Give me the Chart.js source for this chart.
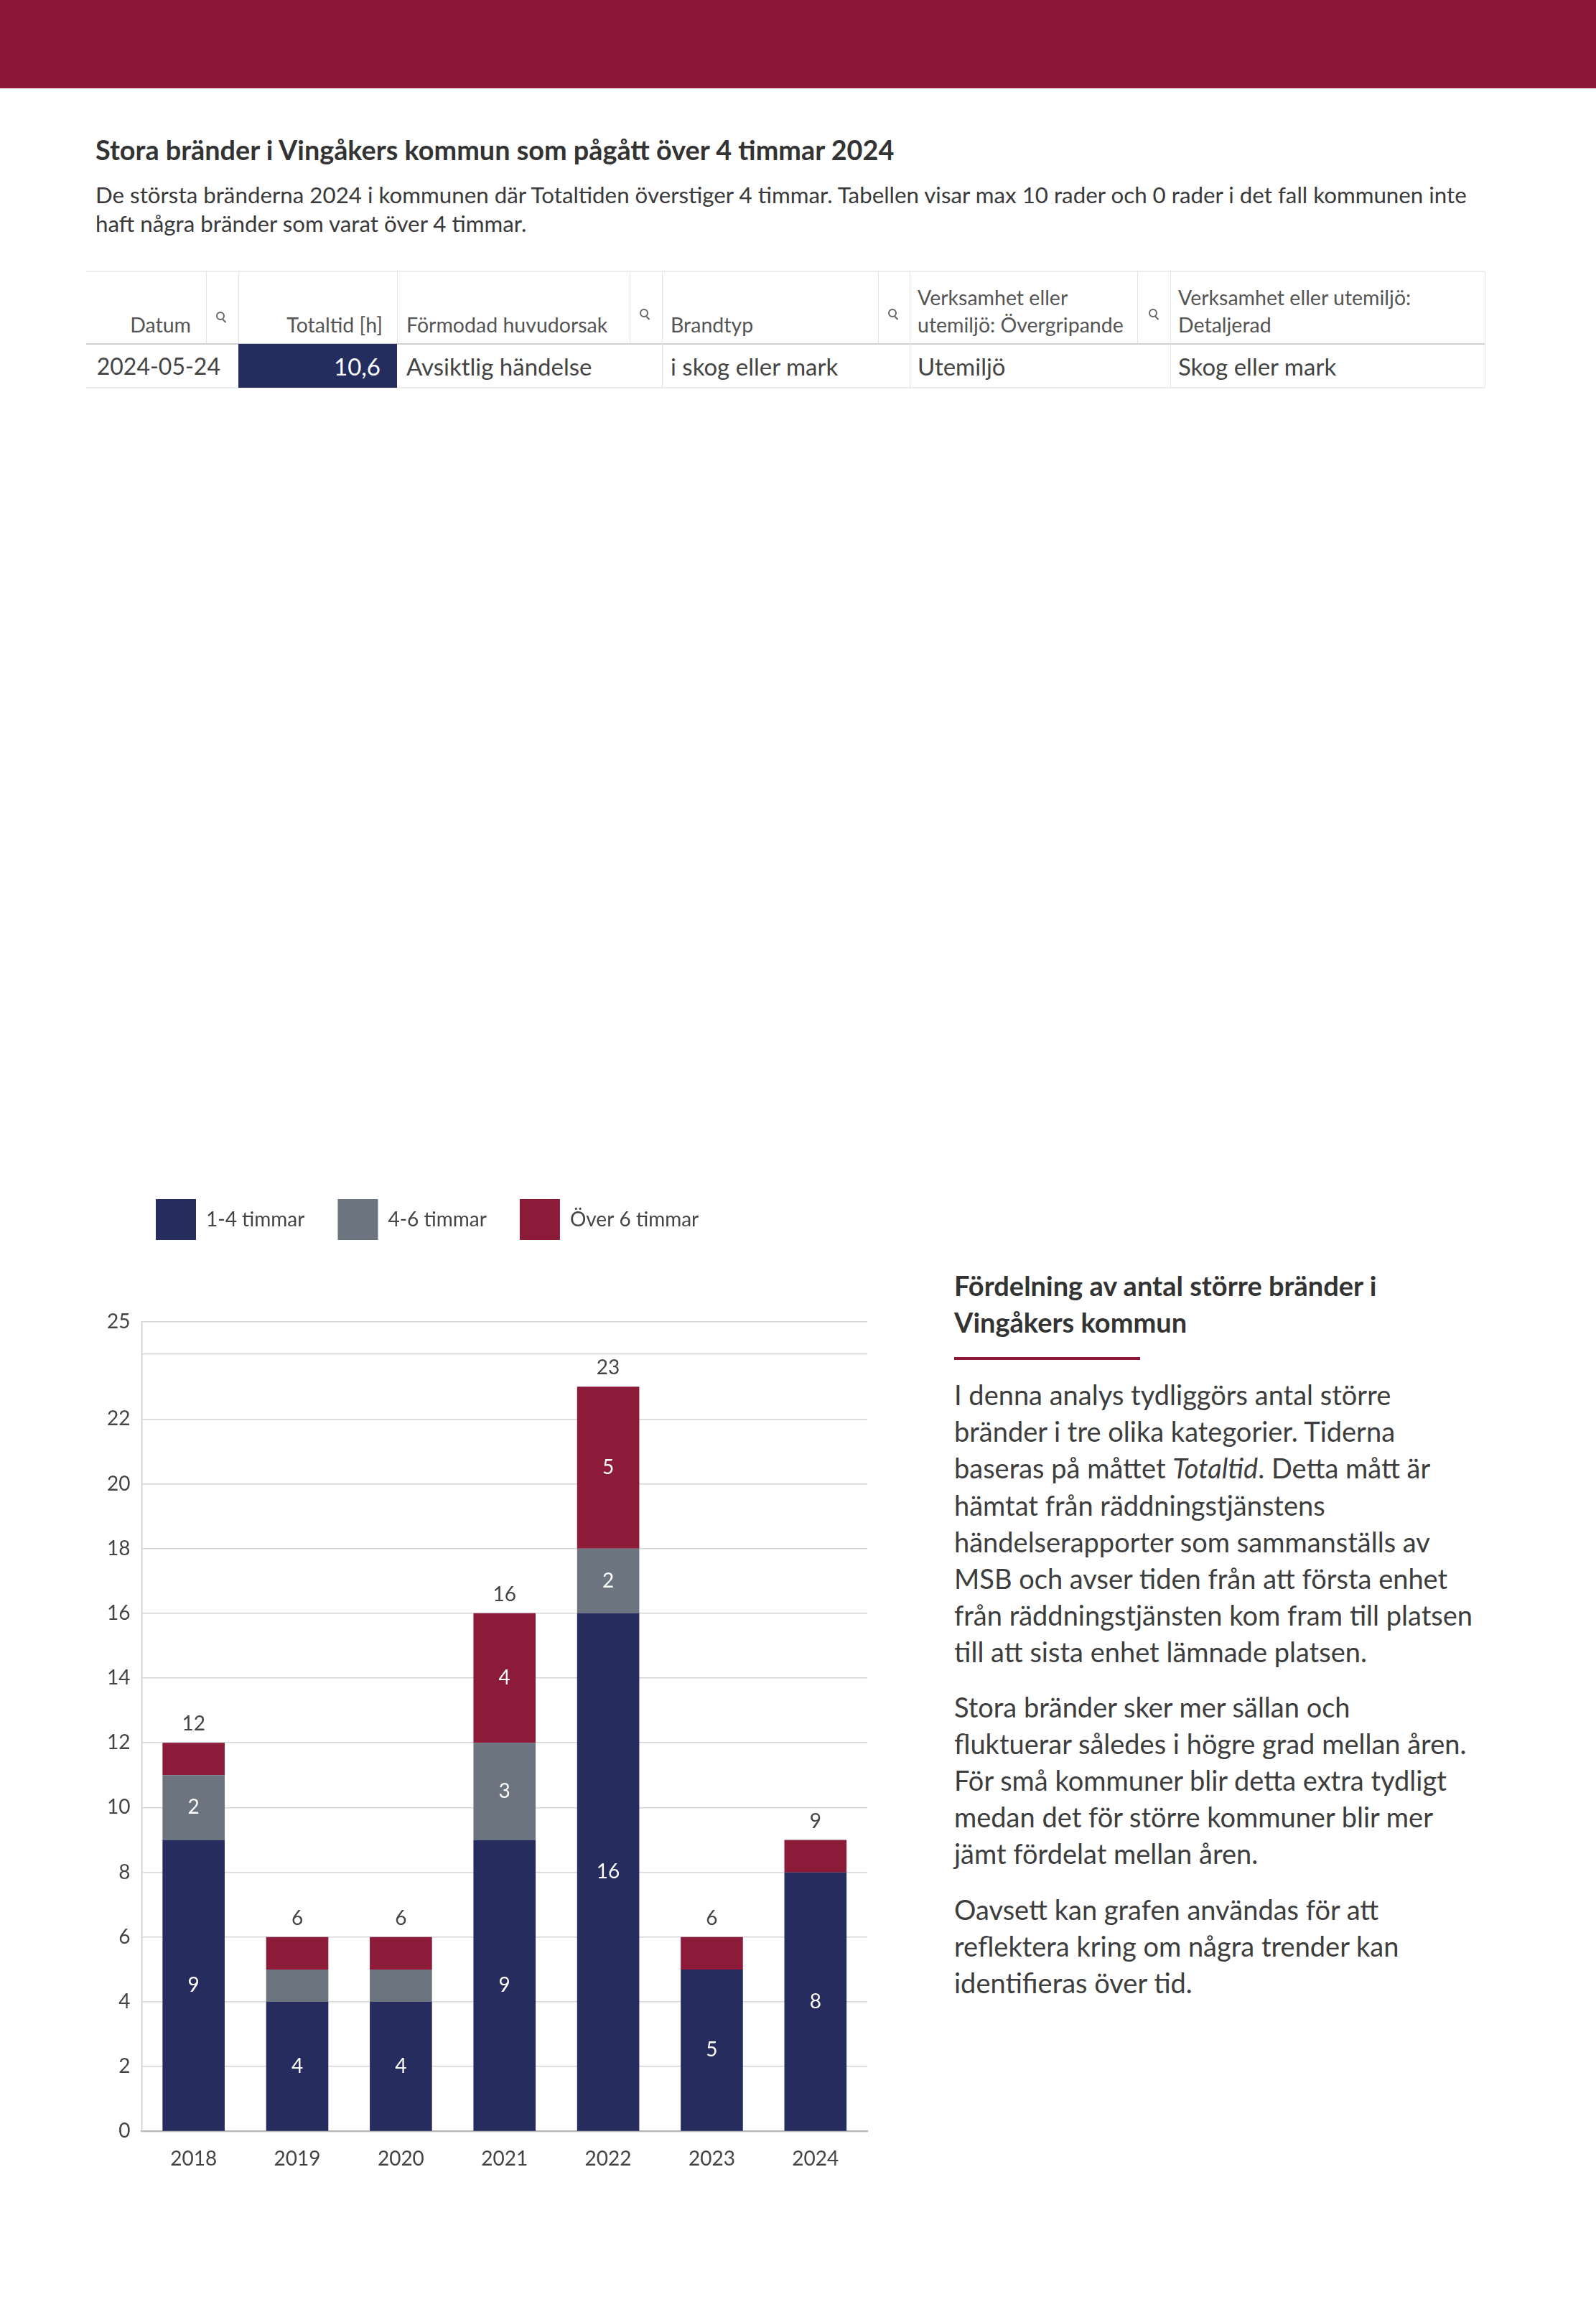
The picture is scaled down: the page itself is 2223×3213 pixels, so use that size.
<!DOCTYPE html>
<html lang="sv">
<head>
<meta charset="utf-8">
<script src="https://cdn.jsdelivr.net/npm/chart.js@4.4.1/dist/chart.umd.min.js"></script>
<style>
html,body{margin:0;padding:0;background:#fff;}
body{width:2223px;height:3213px;position:relative;font-family:Lato,"Open Sans",sans-serif;color:#3f3f3f;overflow:hidden;}
.topbar{position:absolute;left:0;top:0;width:2223px;height:123px;background:#8C1739;}
.title{position:absolute;left:133px;top:186px;font-size:37.8px;line-height:46px;font-weight:700;color:#333;white-space:nowrap;}
.sub{position:absolute;left:133px;top:251px;font-size:31.3px;line-height:40px;color:#3a3a3a;white-space:nowrap;}
.hline{position:absolute;height:0;}
.vline{position:absolute;width:0;}
.th{position:absolute;top:378px;height:93px;display:flex;flex-direction:column;justify-content:flex-end;font-size:28.5px;line-height:38px;color:#555;white-space:nowrap;box-sizing:border-box;}
.td{position:absolute;top:479px;height:61px;display:flex;align-items:center;font-size:33px;color:#444;white-space:nowrap;box-sizing:border-box;}
.r{text-align:right;align-items:flex-end;}
.search{position:absolute;width:16px;height:16px;}
.search::before{content:"";position:absolute;left:0;top:0;width:8px;height:8px;border:2px solid #666;border-radius:50%;}
.search::after{content:"";position:absolute;left:10px;top:10px;width:6px;height:2px;background:#666;transform:rotate(45deg);transform-origin:0 0;}
#chartWrap{position:absolute;left:100px;top:1620px;width:1130px;height:1440px;}
.side{position:absolute;left:1329px;white-space:nowrap;color:#3d3d3d;}
.side h2{margin:0;font-size:38px;line-height:51px;font-weight:700;color:#333;}
.side .rule{width:259px;height:4px;background:#8C1739;margin-top:23px;}
.side p{margin:0;font-size:38px;line-height:51.2px;}
</style>
</head>
<body>
<div class="topbar"></div>
<div class="title">Stora bränder i Vingåkers kommun som pågått över 4 timmar 2024</div>
<div class="sub">De största bränderna 2024 i kommunen där Totaltiden överstiger 4 timmar. Tabellen visar max 10 rader och 0 rader i det fall kommunen inte<br>haft några bränder som varat över 4 timmar.</div>

<!-- table -->
<div class="hline" style="left:120px;top:377px;width:1948px;border-top:2px solid #eeeeee;"></div>
<div class="hline" style="left:120px;top:478px;width:1948px;border-top:2px solid #d0d0d0;"></div>
<div class="hline" style="left:120px;top:539px;width:1948px;border-top:2px solid #ececec;"></div>
<div class="vline" style="left:287px;top:378px;height:100px;border-left:1px solid #e6e6e6;"></div>
<div class="vline" style="left:332px;top:378px;height:100px;border-left:1px solid #e6e6e6;"></div>
<div class="vline" style="left:553px;top:378px;height:100px;border-left:1px solid #e6e6e6;"></div>
<div class="vline" style="left:877px;top:378px;height:100px;border-left:1px solid #e6e6e6;"></div>
<div class="vline" style="left:922px;top:378px;height:162px;border-left:1px solid #e6e6e6;"></div>
<div class="vline" style="left:1223px;top:378px;height:100px;border-left:1px solid #e6e6e6;"></div>
<div class="vline" style="left:1267px;top:378px;height:162px;border-left:1px solid #e6e6e6;"></div>
<div class="vline" style="left:1584px;top:378px;height:100px;border-left:1px solid #e6e6e6;"></div>
<div class="vline" style="left:1630px;top:378px;height:162px;border-left:1px solid #e6e6e6;"></div>
<div class="vline" style="left:2068px;top:378px;height:162px;border-left:1px solid #e6e6e6;"></div>

<div class="th r" style="left:120px;width:167px;padding-right:21px;">Datum</div>
<div class="search" style="left:301px;top:434px;"></div>
<div class="th r" style="left:332px;width:221px;padding-right:20px;">Totaltid [h]</div>
<div class="th" style="left:553px;width:324px;padding-left:13px;">Förmodad huvudorsak</div>
<div class="search" style="left:891px;top:430px;"></div>
<div class="th" style="left:922px;width:301px;padding-left:12px;">Brandtyp</div>
<div class="search" style="left:1237px;top:430px;"></div>
<div class="th" style="left:1267px;width:317px;padding-left:11px;">Verksamhet eller<br>utemiljö: Övergripande</div>
<div class="search" style="left:1600px;top:430px;"></div>
<div class="th" style="left:1630px;width:438px;padding-left:11px;">Verksamhet eller utemiljö:<br>Detaljerad</div>

<div class="td" style="left:120px;width:212px;justify-content:flex-end;padding-right:25px;font-size:32px;">2024-05-24</div>
<div class="td" style="left:332px;width:221px;justify-content:flex-end;padding-right:23px;background:#252D5E;color:#fff;">10,6</div>
<div class="td" style="left:553px;width:369px;padding-left:13px;">Avsiktlig händelse</div>
<div class="td" style="left:922px;width:345px;padding-left:12px;">i skog eller mark</div>
<div class="td" style="left:1267px;width:363px;padding-left:11px;">Utemiljö</div>
<div class="td" style="left:1630px;width:438px;padding-left:11px;">Skog eller mark</div>

<div id="chartWrap"><canvas id="c"></canvas></div>

<div class="side" style="top:1765px;">
<h2>Fördelning av antal större bränder i<br>Vingåkers kommun</h2>
<div class="rule"></div>
<p style="margin-top:23px;">I denna analys tydliggörs antal större<br>bränder i tre olika kategorier. Tiderna<br>baseras på måttet <i>Totaltid</i>. Detta mått är<br>hämtat från räddningstjänstens<br>händelserapporter som sammanställs av<br>MSB och avser tiden från att första enhet<br>från räddningstjänsten kom fram till platsen<br>till att sista enhet lämnade platsen.</p>
<p style="margin-top:25px;">Stora bränder sker mer sällan och<br>fluktuerar således i högre grad mellan åren.<br>För små kommuner blir detta extra tydligt<br>medan det för större kommuner blir mer<br>jämt fördelat mellan åren.</p>
<p style="margin-top:26px;">Oavsett kan grafen användas för att<br>reflektera kring om några trender kan<br>identifieras över tid.</p>
</div>

<script>
// ---- data ----
const years = ['2018', '2019', '2020', '2021', '2022', '2023', '2024'];
const seriesNames = ['1-4 timmar', '4-6 timmar', 'Över 6 timmar'];
const h1to4 = [9, 4, 4, 9, 16, 5, 8];
const h4to6 = [2, 1, 1, 3, 2, 0, 0];
const over6 = [1, 1, 1, 4, 5, 1, 1];
const yTickValues = [0, 2, 4, 6, 8, 10, 12, 14, 16, 18, 20, 22, 24, 25];
const yTickLabels = ['0', '2', '4', '6', '8', '10', '12', '14', '16', '18', '20', '22', '', '25'];

const colors = ['#262C5D', '#6C757F', '#8C1B3A'];
const minInsideLabel = 2;

Chart.defaults.font.family = 'Lato, "Open Sans", sans-serif';
Chart.defaults.font.size = 28;
Chart.defaults.color = '#444';

const legendSpacing = {
  id: 'legendSpacing',
  beforeInit(chart) {
    const orig = chart.legend.fit;
    chart.legend.fit = function () {
      orig.bind(chart.legend)();
      this.height += 104;
    };
  },
  afterLayout(chart) {
    chart.legend.left += 38;
  }
};

const valueLabels = {
  id: 'valueLabels',
  afterDatasetsDraw(chart) {
    const ctx = chart.ctx;
    ctx.save();
    ctx.font = '28px Lato, "Open Sans", sans-serif';
    ctx.textAlign = 'center';
    ctx.textBaseline = 'middle';
    chart.data.datasets.forEach((ds, di) => {
      const meta = chart.getDatasetMeta(di);
      meta.data.forEach((el, i) => {
        const v = ds.data[i];
        if (v >= minInsideLabel) {
          ctx.fillStyle = '#ffffff';
          ctx.fillText(String(v), el.x, (el.y + el.base) / 2);
        }
      });
    });
    years.forEach((y, i) => {
      let total = 0, top = Infinity, x = 0;
      chart.data.datasets.forEach((ds, di) => {
        const el = chart.getDatasetMeta(di).data[i];
        total += ds.data[i];
        x = el.x;
        if (ds.data[i] > 0) top = Math.min(top, el.y);
      });
      ctx.fillStyle = '#444';
      ctx.fillText(String(total), x, top - 26);
    });
    ctx.restore();
  }
};

new Chart(document.getElementById('c'), {
  type: 'bar',
  data: {
    labels: years,
    datasets: [
      { label: seriesNames[0], data: h1to4, backgroundColor: colors[0] },
      { label: seriesNames[1], data: h4to6, backgroundColor: colors[1] },
      { label: seriesNames[2], data: over6, backgroundColor: colors[2] }
    ]
  },
  options: {
    responsive: true,
    maintainAspectRatio: false,
    animation: false,
    layout: { padding: { top: 4, left: 33, right: 22, bottom: 22 } },
    datasets: { bar: { barPercentage: 0.6, categoryPercentage: 1.0 } },
    plugins: {
      legend: {
        position: 'top',
        align: 'start',
        labels: { boxWidth: 56, boxHeight: 57, padding: 46, color: '#444', font: { size: 28 } }
      },
      tooltip: { enabled: false }
    },
    scales: {
      x: {
        stacked: true,
        grid: { display: false },
        border: { color: '#b4b4b4', width: 2 },
        ticks: { padding: 14, color: '#444' }
      },
      y: {
        stacked: true,
        min: 0,
        max: 25,
        afterBuildTicks(scale) { scale.ticks = yTickValues.map(v => ({ value: v })); },
        ticks: {
          padding: 16,
          autoSkip: false,
          color: '#444',
          callback(value) { const k = yTickValues.indexOf(value); return k >= 0 ? yTickLabels[k] : ''; }
        },
        grid: { color: '#d6d6d6', lineWidth: 1.5, drawTicks: false },
        border: { color: '#cccccc', width: 1.5 }
      }
    }
  },
  plugins: [legendSpacing, valueLabels]
});
</script>
</body>
</html>
